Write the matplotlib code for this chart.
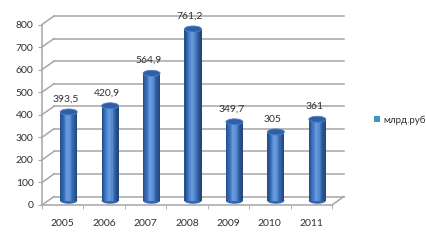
import numpy as np
import matplotlib
matplotlib.use('Agg')
import matplotlib.pyplot as plt
from matplotlib.patches import Ellipse, Patch
from matplotlib.colors import LinearSegmentedColormap

plt.rcParams['font.family'] = ['Lato', 'DejaVu Sans']

years = ['2005', '2006', '2007', '2008', '2009', '2010', '2011']
values = [393.5, 420.9, 564.9, 761.2, 349.7, 305, 361]
value_labels = ['393,5', '420,9', '564,9', '761,2', '349,7', '305', '361']
y_ticks = [0, 100, 200, 300, 400, 500, 600, 700, 800]
series_name = 'млрд.руб'

fig = plt.figure(figsize=(4.27, 2.4), dpi=100)
ax = fig.add_axes([42 / 427, 35 / 240, 290 / 427, 180.5 / 240])
ax.set_xlim(-0.5, 6.5)
ax.set_ylim(0, 800)

# depth offset of the back wall, in data units
dx = 12 / (290 / 7)
dy = 8.5 / (180.5 / 800)
grid_c = '#a6a6a6'

for s in ax.spines.values():
    s.set_visible(False)

# back wall gridlines and side wall diagonals
for y in y_ticks:
    ax.plot([-0.5 + dx, 6.5 + dx], [y + dy, y + dy], color=grid_c, lw=1.1, clip_on=False, zorder=1)
    ax.plot([-0.5, -0.5 + dx], [y, y + dy], color=grid_c, lw=1.1, clip_on=False, zorder=1)
# front axes and floor
ax.plot([-0.5, -0.5], [0, 800], color=grid_c, lw=1.1, clip_on=False, zorder=1)
ax.plot([-0.5, 6.5], [0, 0], color=grid_c, lw=1.1, clip_on=False, zorder=1)
ax.plot([6.5, 6.5 + dx], [0, dy], color=grid_c, lw=1.1, clip_on=False, zorder=1)

ax.set_yticks(y_ticks)
ax.set_xticks(range(len(years)))
ax.set_xticklabels(years)
ax.set_xticks(np.arange(-0.5, 7, 1), minor=True)
ax.tick_params(axis='y', length=3, color=grid_c, labelsize=7.5, labelcolor='#303030', pad=3)
ax.tick_params(axis='x', which='major', length=0, labelsize=7.5, labelcolor='#303030', pad=10)
ax.tick_params(axis='x', which='minor', length=3, color=grid_c)

# cylinders
w = 17 / (290 / 7)
n = 14
cmap = LinearSegmentedColormap.from_list('cyl', ['#24508f', '#3a6fbb', '#6a9de0', '#5a8dd2', '#2f5da0', '#22487f'])
xs = np.arange(len(years)) + dx / 2
for k in range(n):
    off = -w / 2 + (k + 0.5) * w / n
    ax.bar(xs + off, values, width=w / n * 1.05, bottom=dy / 2, color=cmap(k / (n - 1)),
           linewidth=0, zorder=3)
eh = 6 / (180.5 / 800)
for x, v in zip(xs, values):
    ax.add_patch(Ellipse((x, dy / 2), w, eh, facecolor='#3467ad', edgecolor='none', zorder=2.9))
    ax.add_patch(Ellipse((x, v + dy / 2), w, eh, facecolor='#2f60a6', edgecolor='#4f80c8',
                         lw=0.6, zorder=4, clip_on=False))

for i, (v, t) in enumerate(zip(values, value_labels)):
    ax.annotate(t, (i + dx / 4, v + dy / 2), xytext=(0, 6), textcoords='offset points',
                ha='center', va='bottom', fontsize=7.5, color='#303030', annotation_clip=False)

fig.legend(handles=[Patch(facecolor='#3a98c6', edgecolor='none')], labels=[series_name],
           loc='center left', bbox_to_anchor=(365 / 427, 0.5), frameon=False, fontsize=7,
           handlelength=0.6, handleheight=0.6, handletextpad=0.4, labelcolor='#303030')

fig.savefig('out.png', dpi=100)
